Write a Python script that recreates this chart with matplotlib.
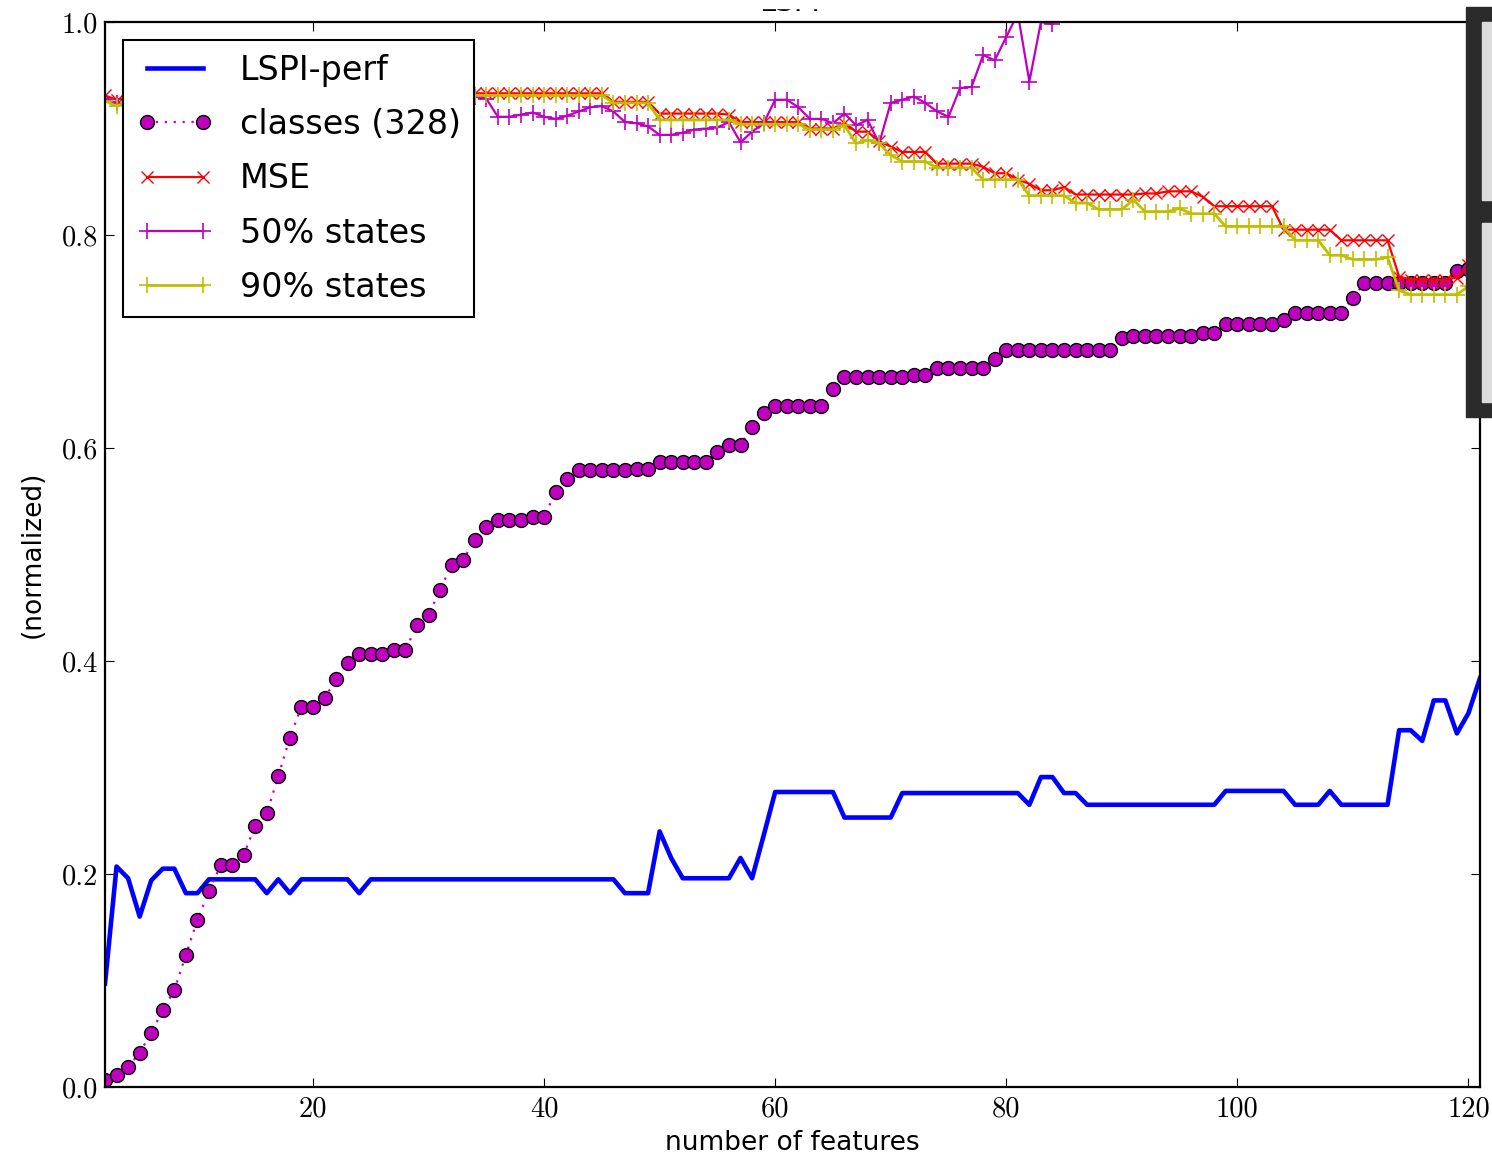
import matplotlib
matplotlib.use("Agg")
import matplotlib.pyplot as plt
import numpy as np
from matplotlib.patches import Rectangle

# x axis: number of features (2 .. 121)
n_features = np.arange(2, 122)

# one value per feature count (10 per row)
lspi_perf = [
    0.097, 0.207, 0.196, 0.160, 0.194, 0.205, 0.205, 0.182, 0.182, 0.195,
    0.195, 0.195, 0.195, 0.195, 0.182, 0.195, 0.182, 0.195, 0.195, 0.195,
    0.195, 0.195, 0.182, 0.195, 0.195, 0.195, 0.195, 0.195, 0.195, 0.195,
    0.195, 0.195, 0.195, 0.195, 0.195, 0.195, 0.195, 0.195, 0.195, 0.195,
    0.195, 0.195, 0.195, 0.195, 0.195, 0.182, 0.182, 0.182, 0.240, 0.215,
    0.196, 0.196, 0.196, 0.196, 0.196, 0.215, 0.196, 0.236, 0.277, 0.277,
    0.277, 0.277, 0.277, 0.277, 0.253, 0.253, 0.253, 0.253, 0.253, 0.276,
    0.276, 0.276, 0.276, 0.276, 0.276, 0.276, 0.276, 0.276, 0.276, 0.276,
    0.265, 0.291, 0.291, 0.276, 0.276, 0.265, 0.265, 0.265, 0.265, 0.265,
    0.265, 0.265, 0.265, 0.265, 0.265, 0.265, 0.265, 0.278, 0.278, 0.278,
    0.278, 0.278, 0.278, 0.265, 0.265, 0.265, 0.278, 0.265, 0.265, 0.265,
    0.265, 0.265, 0.335, 0.335, 0.325, 0.363, 0.363, 0.332, 0.351, 0.384,
]

classes_328 = [
    0.007, 0.011, 0.019, 0.032, 0.051, 0.072, 0.091, 0.124, 0.157, 0.184,
    0.208, 0.208, 0.218, 0.245, 0.257, 0.292, 0.328, 0.357, 0.357, 0.365,
    0.383, 0.398, 0.407, 0.407, 0.407, 0.410, 0.410, 0.434, 0.443, 0.467,
    0.490, 0.495, 0.514, 0.526, 0.532, 0.532, 0.532, 0.535, 0.535, 0.559,
    0.571, 0.579, 0.579, 0.579, 0.579, 0.579, 0.580, 0.580, 0.587, 0.587,
    0.587, 0.587, 0.587, 0.596, 0.603, 0.603, 0.620, 0.633, 0.639, 0.639,
    0.639, 0.639, 0.639, 0.655, 0.667, 0.667, 0.667, 0.667, 0.667, 0.667,
    0.669, 0.669, 0.675, 0.675, 0.675, 0.675, 0.675, 0.684, 0.692, 0.692,
    0.692, 0.692, 0.692, 0.692, 0.692, 0.692, 0.692, 0.692, 0.703, 0.705,
    0.705, 0.705, 0.705, 0.705, 0.705, 0.708, 0.708, 0.716, 0.716, 0.716,
    0.716, 0.716, 0.720, 0.727, 0.727, 0.727, 0.727, 0.727, 0.741, 0.755,
    0.755, 0.755, 0.755, 0.755, 0.755, 0.755, 0.755, 0.766, 0.768, 0.770,
]

mse = [
    0.931, 0.927, 0.929, 0.930, 0.931, 0.932, 0.932, 0.933, 0.933, 0.934,
    0.934, 0.934, 0.935, 0.935, 0.935, 0.934, 0.934, 0.934, 0.933, 0.934,
    0.934, 0.934, 0.934, 0.933, 0.933, 0.934, 0.934, 0.934, 0.933, 0.933,
    0.933, 0.933, 0.933, 0.933, 0.933, 0.933, 0.933, 0.933, 0.933, 0.933,
    0.933, 0.933, 0.933, 0.933, 0.925, 0.925, 0.925, 0.925, 0.914, 0.914,
    0.914, 0.914, 0.914, 0.914, 0.913, 0.906, 0.906, 0.906, 0.906, 0.906,
    0.906, 0.900, 0.900, 0.900, 0.905, 0.897, 0.897, 0.888, 0.883, 0.878,
    0.878, 0.878, 0.867, 0.867, 0.867, 0.867, 0.864, 0.858, 0.858, 0.852,
    0.848, 0.842, 0.842, 0.845, 0.838, 0.838, 0.838, 0.838, 0.838, 0.838,
    0.839, 0.839, 0.841, 0.841, 0.841, 0.836, 0.827, 0.827, 0.827, 0.827,
    0.827, 0.827, 0.805, 0.805, 0.805, 0.805, 0.805, 0.795, 0.795, 0.795,
    0.795, 0.795, 0.761, 0.758, 0.758, 0.758, 0.758, 0.760, 0.772, 0.782,
]

# goes off the top of the axes after ~84 features
states_50 = [
    0.928, 0.924, 0.927, 0.929, 0.930, 0.930, 0.931, 0.931, 0.930, 0.931,
    0.932, 0.932, 0.931, 0.930, 0.931, 0.931, 0.932, 0.931, 0.930, 0.930,
    0.931, 0.931, 0.930, 0.930, 0.931, 0.930, 0.930, 0.931, 0.930, 0.930,
    0.930, 0.930, 0.930, 0.928, 0.911, 0.911, 0.913, 0.915, 0.911, 0.909,
    0.912, 0.916, 0.920, 0.921, 0.916, 0.906, 0.905, 0.902, 0.894, 0.894,
    0.896, 0.899, 0.900, 0.901, 0.906, 0.887, 0.897, 0.905, 0.927, 0.927,
    0.920, 0.909, 0.909, 0.905, 0.914, 0.903, 0.908, 0.886, 0.924, 0.927,
    0.930, 0.924, 0.916, 0.911, 0.938, 0.939, 0.969, 0.964, 0.986, 1.008,
    0.944, 1.000, 0.998, 1.020, 1.035, 1.040, 1.050, 1.045, 1.060, 1.055,
    1.060, 1.070, 1.065, 1.075, 1.080, 1.070, 1.085, 1.090, 1.080, 1.095,
    1.100, 1.090, 1.105, 1.110, 1.100, 1.115, 1.120, 1.110, 1.125, 1.130,
    1.120, 1.135, 1.140, 1.130, 1.145, 1.150, 1.140, 1.155, 1.160, 1.150,
]

states_90 = [
    0.926, 0.921, 0.925, 0.927, 0.928, 0.929, 0.929, 0.930, 0.930, 0.931,
    0.931, 0.931, 0.932, 0.932, 0.932, 0.931, 0.931, 0.931, 0.930, 0.931,
    0.931, 0.931, 0.931, 0.930, 0.930, 0.931, 0.931, 0.931, 0.930, 0.930,
    0.930, 0.931, 0.931, 0.931, 0.931, 0.931, 0.931, 0.931, 0.931, 0.931,
    0.931, 0.931, 0.931, 0.931, 0.924, 0.924, 0.924, 0.924, 0.908, 0.908,
    0.908, 0.908, 0.908, 0.908, 0.908, 0.904, 0.904, 0.904, 0.904, 0.904,
    0.904, 0.899, 0.899, 0.899, 0.903, 0.886, 0.889, 0.886, 0.875, 0.869,
    0.869, 0.869, 0.863, 0.863, 0.863, 0.863, 0.852, 0.852, 0.852, 0.852,
    0.837, 0.837, 0.837, 0.837, 0.830, 0.830, 0.824, 0.824, 0.824, 0.833,
    0.822, 0.822, 0.822, 0.825, 0.820, 0.820, 0.820, 0.808, 0.808, 0.808,
    0.808, 0.808, 0.808, 0.795, 0.795, 0.795, 0.781, 0.781, 0.777, 0.777,
    0.777, 0.779, 0.748, 0.744, 0.744, 0.744, 0.744, 0.744, 0.752, 0.760,
]

x_ticks = [20, 40, 60, 80, 100, 120]
y_ticks = [0.0, 0.2, 0.4, 0.6, 0.8, 1.0]
y_ticklabels = ["0.0", "0.2", "0.4", "0.6", "0.8", "1.0"]

magenta = (0.75, 0.0, 0.75)
olive = (0.75, 0.75, 0.0)

W, H = 1492, 1156
fig = plt.figure(figsize=(W / 100, H / 100), dpi=100)
fig.patch.set_facecolor("white")
ax = fig.add_axes([105 / W, 69 / H, 1375 / W, 1065 / H])

ax.plot(n_features, lspi_perf, color="b", lw=3.3, label="LSPI-perf")
ax.plot(n_features, classes_328, color=magenta, ls=":", lw=1.6, dashes=(1, 3),
        marker="o", ms=10, mfc=magenta, mec="k", mew=1.0, label="classes (328)")
ax.plot(n_features, mse, color="r", lw=1.6, marker="x", ms=9, mew=1.0, label="MSE")
ax.plot(n_features, states_50, color=magenta, lw=1.6, marker="+", ms=11, mew=1.2,
        label="50% states")
ax.plot(n_features, states_90, color=olive, lw=2.0, marker="+", ms=11, mew=1.2,
        label="90% states")

ax.set_xlim(2, 121)
ax.set_ylim(0, 1)
ax.set_xticks(x_ticks)
ax.set_yticks(y_ticks)
ax.set_yticklabels(y_ticklabels)
ax.tick_params(direction="in", top=True, right=True, length=6.3, width=0.8,
               pad=6.3, labelsize=20.5, labelfontfamily="cmr10")
ax.tick_params(axis="y", pad=5)
for sp in ax.spines.values():
    sp.set_linewidth(1.6)

ax.set_xlabel("number of features", fontsize=19)
ax.xaxis.set_label_coords(0.5, -0.040)
ax.set_ylabel("(normalized)", fontsize=19)
ax.yaxis.set_label_coords(-0.043, 0.5)

leg = ax.legend(loc="upper left", fontsize=24, numpoints=2, fancybox=False,
                framealpha=1, edgecolor="k", borderpad=0.4, labelspacing=0.64,
                handlelength=2.3, handletextpad=0.8, borderaxespad=0.55)
leg.get_frame().set_linewidth(1.5)

# title: only its lower edge shows in the reference
fig.text(790 / W, 1 - 11 / H, "LSPI", ha="center", va="baseline", fontsize=21)
fig.add_artist(Rectangle((690 / W, 1 - 7.5 / H), 200 / W, 8 / H,
                         transform=fig.transFigure, color="white", zorder=9))

# dark panel cut off at the right edge
fig.add_artist(Rectangle((1466 / W, 1 - 417 / H), 30 / W, 410 / H,
                         transform=fig.transFigure, color="#2b2b2b", zorder=10))
fig.add_artist(Rectangle((1482 / W, 1 - 200 / H), 12 / W, 178 / H,
                         transform=fig.transFigure, color="#dcdcdc", zorder=11))
fig.add_artist(Rectangle((1482 / W, 1 - 402 / H), 12 / W, 179 / H,
                         transform=fig.transFigure, color="#dcdcdc", zorder=11))

fig.savefig("out.png", dpi=100, facecolor="white")
